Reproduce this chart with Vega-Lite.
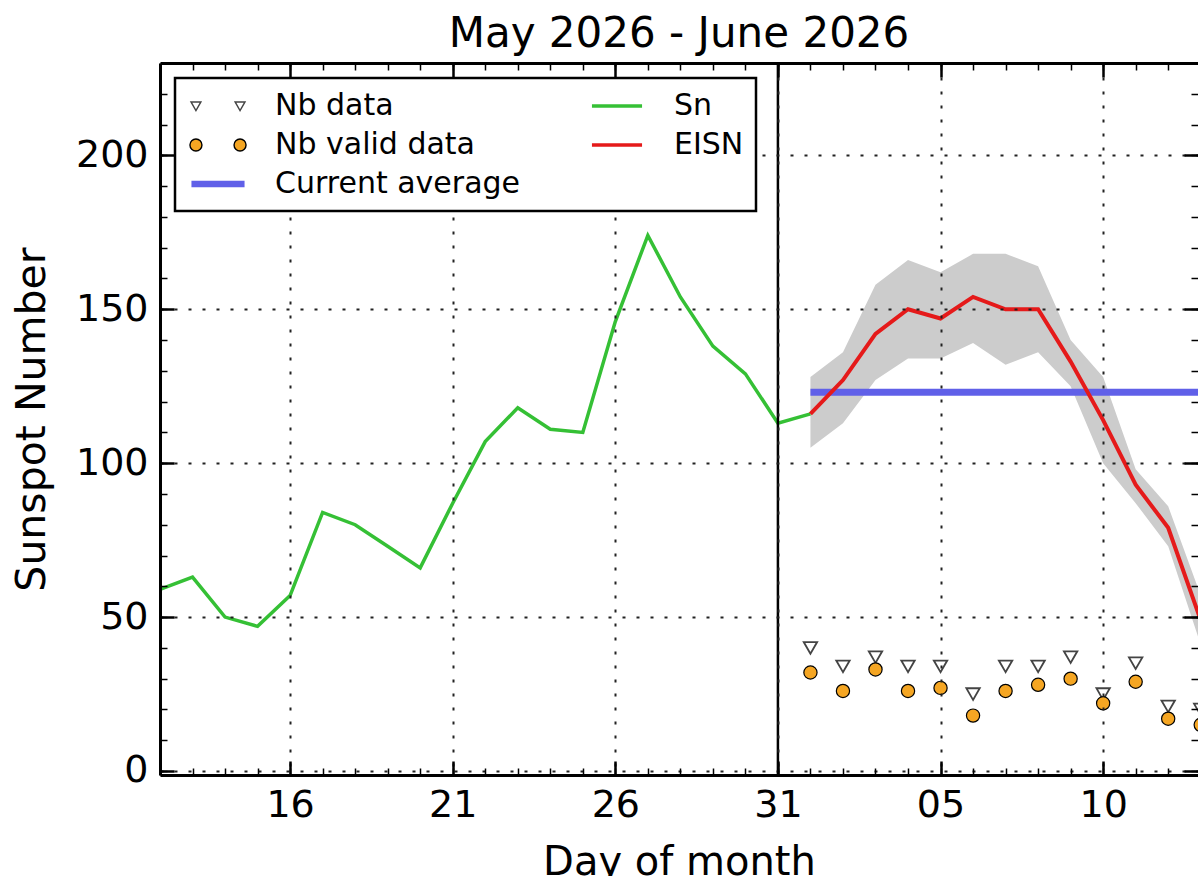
{
  "$schema": "https://vega.github.io/schema/vega-lite/v6.json",
  "width": 1038,
  "height": 712,
  "autosize": {"type": "none"},
  "padding": {"left": 160, "top": 63, "right": 0, "bottom": 101},
  "background": "white",
  "title": {
    "text": "May 2026 - June 2026",
    "font": "DejaVu Sans",
    "fontSize": 42,
    "fontWeight": "normal",
    "color": "black",
    "anchor": "middle",
    "frame": "group",
    "baseline": "alphabetic",
    "offset": -27
  },
  "datasets": {
    "sn": [
      {"date": "2026-05-12", "sn": 59},
      {"date": "2026-05-13", "sn": 63},
      {"date": "2026-05-14", "sn": 50},
      {"date": "2026-05-15", "sn": 47},
      {"date": "2026-05-16", "sn": 57},
      {"date": "2026-05-17", "sn": 84},
      {"date": "2026-05-18", "sn": 80},
      {"date": "2026-05-19", "sn": 73},
      {"date": "2026-05-20", "sn": 66},
      {"date": "2026-05-21", "sn": 87},
      {"date": "2026-05-22", "sn": 107},
      {"date": "2026-05-23", "sn": 118},
      {"date": "2026-05-24", "sn": 111},
      {"date": "2026-05-25", "sn": 110},
      {"date": "2026-05-26", "sn": 146},
      {"date": "2026-05-27", "sn": 174},
      {"date": "2026-05-28", "sn": 154},
      {"date": "2026-05-29", "sn": 138},
      {"date": "2026-05-30", "sn": 129},
      {"date": "2026-05-31", "sn": 113},
      {"date": "2026-06-01", "sn": 116}
    ],
    "eisn": [
      {"date": "2026-06-01", "eisn": 116, "lo": 105, "hi": 128, "nb": 40, "nbvalid": 32},
      {"date": "2026-06-02", "eisn": 127, "lo": 113, "hi": 136, "nb": 34, "nbvalid": 26},
      {"date": "2026-06-03", "eisn": 142, "lo": 127, "hi": 158, "nb": 37, "nbvalid": 33},
      {"date": "2026-06-04", "eisn": 150, "lo": 134, "hi": 166, "nb": 34, "nbvalid": 26},
      {"date": "2026-06-05", "eisn": 147, "lo": 134, "hi": 162, "nb": 34, "nbvalid": 27},
      {"date": "2026-06-06", "eisn": 154, "lo": 139, "hi": 168, "nb": 25, "nbvalid": 18},
      {"date": "2026-06-07", "eisn": 150, "lo": 132, "hi": 168, "nb": 34, "nbvalid": 26},
      {"date": "2026-06-08", "eisn": 150, "lo": 136, "hi": 164, "nb": 34, "nbvalid": 28},
      {"date": "2026-06-09", "eisn": 133, "lo": 125, "hi": 140, "nb": 37, "nbvalid": 30},
      {"date": "2026-06-10", "eisn": 114, "lo": 100, "hi": 128, "nb": 25, "nbvalid": 22},
      {"date": "2026-06-11", "eisn": 93, "lo": 87, "hi": 98, "nb": 35, "nbvalid": 29},
      {"date": "2026-06-12", "eisn": 79, "lo": 73, "hi": 86, "nb": 21, "nbvalid": 17},
      {"date": "2026-06-13", "eisn": 49, "lo": 41, "hi": 57, "nb": 20, "nbvalid": 15}
    ],
    "avg": [{"start": "2026-06-01", "end": "2026-06-14", "avg": 123}],
    "sep": [{"date": "2026-05-31"}]
  },
  "layer": [
    {
      "data": {"name": "eisn"},
      "mark": {"type": "area", "color": "#cccccc", "clip": true},
      "encoding": {
        "x": {
          "field": "date", "type": "temporal",
          "axis": {
            "orient": "top",
            "values": [
              {"year": 2026, "month": 5, "date": 16, "utc": true},
              {"year": 2026, "month": 5, "date": 21, "utc": true},
              {"year": 2026, "month": 5, "date": 26, "utc": true},
              {"year": 2026, "month": 5, "date": 31, "utc": true},
              {"year": 2026, "month": 6, "date": 5, "utc": true},
              {"year": 2026, "month": 6, "date": 10, "utc": true}
            ],
            "labels": false, "grid": false, "title": null,
            "tickSize": -14, "tickWidth": 2.5,
            "domain": true, "domainWidth": 3, "zindex": 1
          }
        },
        "y": {
          "field": "hi", "type": "quantitative",
          "axis": {
            "orient": "right", "values": [0, 50, 100, 150, 200],
            "labels": false, "grid": false, "title": null, "domain": false,
            "tickSize": -14, "tickWidth": 2.5, "zindex": 1
          }
        },
        "y2": {"field": "lo"}
      }
    },
    {
      "data": {"name": "avg"},
      "mark": {"type": "rule", "color": "#6060e8", "strokeWidth": 7, "clip": true},
      "encoding": {
        "x": {"field": "start", "type": "temporal", "axis": null},
        "x2": {"field": "end"},
        "y": {"field": "avg", "type": "quantitative", "axis": null}
      }
    },
    {
      "data": {"name": "sn"},
      "mark": {"type": "line", "color": "#35c035", "strokeWidth": 3.5, "clip": true},
      "encoding": {
        "x": {
          "field": "date", "type": "temporal",
          "scale": {
            "type": "utc", "nice": false,
            "domain": [
              {"year": 2026, "month": 5, "date": 12, "utc": true},
              {"year": 2026, "month": 6, "date": 12, "hours": 22, "utc": true}
            ]
          },
          "axis": {
            "orient": "bottom",
            "values": [
              {"year": 2026, "month": 5, "date": 16, "utc": true},
              {"year": 2026, "month": 5, "date": 21, "utc": true},
              {"year": 2026, "month": 5, "date": 26, "utc": true},
              {"year": 2026, "month": 5, "date": 31, "utc": true},
              {"year": 2026, "month": 6, "date": 5, "utc": true},
              {"year": 2026, "month": 6, "date": 10, "utc": true}
            ],
            "labelExpr": "utcFormat(datum.value, '%d')",
            "labelFlush": false, "labelOverlap": false,
            "labelPadding": 25,
            "grid": true,
            "tickSize": -14, "tickWidth": 2.5,
            "domain": true, "domainWidth": 3,
            "title": "Day of month", "titlePadding": 18,
            "zindex": 1
          }
        },
        "y": {
          "field": "sn", "type": "quantitative",
          "scale": {"domain": [-1.3, 230], "nice": false, "zero": false},
          "axis": {
            "orient": "left", "values": [0, 50, 100, 150, 200],
            "labelPadding": 26,
            "grid": true,
            "tickSize": -14, "tickWidth": 2.5,
            "domain": true, "domainWidth": 3,
            "title": "Sunspot Number", "titleFontSize": 41, "titlePadding": 22,
            "zindex": 1
          }
        }
      }
    },
    {
      "data": {"name": "eisn"},
      "mark": {"type": "line", "color": "#e51a1a", "strokeWidth": 4, "clip": true},
      "encoding": {
        "x": {
          "field": "date", "type": "temporal",
          "axis": {
            "orient": "bottom",
            "tickCount": {"interval": "day", "step": 1},
            "labels": false, "grid": false, "domain": false, "title": null,
            "tickSize": -7, "tickWidth": 1.5, "zindex": 1
          }
        },
        "y": {
          "field": "eisn", "type": "quantitative",
          "axis": {
            "orient": "left",
            "values": [0, 10, 20, 30, 40, 50, 60, 70, 80, 90, 100, 110, 120, 130, 140, 150, 160, 170, 180, 190, 200, 210, 220],
            "labels": false, "grid": false, "domain": false, "title": null,
            "tickSize": -7, "tickWidth": 1.5, "zindex": 1
          }
        }
      }
    },
    {
      "data": {"name": "sep"},
      "mark": {"type": "rule", "color": "black", "strokeWidth": 2.5},
      "encoding": {
        "x": {"field": "date", "type": "temporal", "axis": null}
      }
    },
    {
      "data": {"name": "eisn"},
      "mark": {"type": "point", "shape": "triangle-down", "filled": false, "color": "#444444", "size": 180, "strokeWidth": 1.8, "opacity": 1, "clip": true},
      "encoding": {
        "x": {
          "field": "date", "type": "temporal",
          "axis": {
            "orient": "top",
            "tickCount": {"interval": "day", "step": 1},
            "labels": false, "grid": false, "domain": false, "title": null,
            "tickSize": -7, "tickWidth": 1.5, "zindex": 1
          }
        },
        "y": {
          "field": "nb", "type": "quantitative",
          "axis": {
            "orient": "right",
            "values": [0, 10, 20, 30, 40, 50, 60, 70, 80, 90, 100, 110, 120, 130, 140, 150, 160, 170, 180, 190, 200, 210, 220],
            "labels": false, "grid": false, "domain": false, "title": null,
            "tickSize": -7, "tickWidth": 1.5, "zindex": 1
          }
        }
      }
    },
    {
      "data": {"name": "eisn"},
      "mark": {"type": "point", "shape": "circle", "filled": true, "fill": "#f5a623", "stroke": "black", "size": 175, "strokeWidth": 1.2, "opacity": 1, "clip": true},
      "encoding": {
        "x": {"field": "date", "type": "temporal", "axis": null},
        "y": {"field": "nbvalid", "type": "quantitative", "axis": null}
      }
    },
    {
      "data": {"name": "eisn"},
      "transform": [{"filter": "false"}],
      "mark": {"type": "point", "filled": true, "opacity": 1},
      "encoding": {
        "shape": {
          "datum": "Nb data", "type": "nominal",
          "scale": {
            "domain": ["Nb data", "Nb valid data", "Current average", "Sn", "EISN"],
            "range": [
              "M-1.8,-0.27L-1.14,-0.27L-1.47,0.3ZM1.14,-0.27L1.8,-0.27L1.47,0.3Z",
              "M-1.07,0A0.4,0.4,0,1,1,-1.87,0A0.4,0.4,0,1,1,-1.07,0ZM1.87,0A0.4,0.4,0,1,1,1.07,0A0.4,0.4,0,1,1,1.87,0Z",
              "M-1.77,-0.22L1.77,-0.22L1.77,0.22L-1.77,0.22Z",
              "M-1.67,-0.12L1.67,-0.12L1.67,0.12L-1.67,0.12Z",
              "M-1.67,-0.12L1.67,-0.12L1.67,0.12L-1.67,0.12Z"
            ]
          },
          "legend": {
            "title": null,
            "orient": "top-left",
            "offset": 15,
            "columns": 2,
            "columnPadding": 65,
            "rowPadding": 8,
            "padding": 12,
            "strokeColor": "black",
            "fillColor": "white",
            "labelFont": "DejaVu Sans",
            "labelFontSize": 30,
            "labelColor": "black",
            "labelLimit": 400,
            "labelOffset": 41,
            "symbolOffset": 15,
            "symbolSize": 900,
            "symbolStrokeWidth": 1.4,
            "zindex": 2
          }
        },
        "fill": {
          "datum": "Nb data", "type": "nominal",
          "scale": {
            "domain": ["Nb data", "Nb valid data", "Current average", "Sn", "EISN"],
            "range": ["white", "#f5a623", "#6060e8", "#35c035", "#e51a1a"]
          },
          "legend": {"title": null}
        },
        "stroke": {
          "datum": "Nb data", "type": "nominal",
          "scale": {
            "domain": ["Nb data", "Nb valid data", "Current average", "Sn", "EISN"],
            "range": ["#444444", "black", "transparent", "transparent", "transparent"]
          },
          "legend": {"title": null}
        }
      }
    }
  ],
  "resolve": {"axis": {"x": "independent", "y": "independent"}},
  "config": {
    "view": {"stroke": null},
    "legend": {"strokeWidth": 2.5},
    "axis": {
      "labelFont": "DejaVu Sans",
      "titleFont": "DejaVu Sans",
      "labelFontSize": 38,
      "titleFontSize": 40,
      "labelColor": "black",
      "titleColor": "black",
      "titleFontWeight": "normal",
      "tickColor": "black",
      "domainColor": "black",
      "gridColor": "#222222",
      "gridDash": [3, 11],
      "gridWidth": 2,
      "gridOpacity": 1
    }
  }
}
